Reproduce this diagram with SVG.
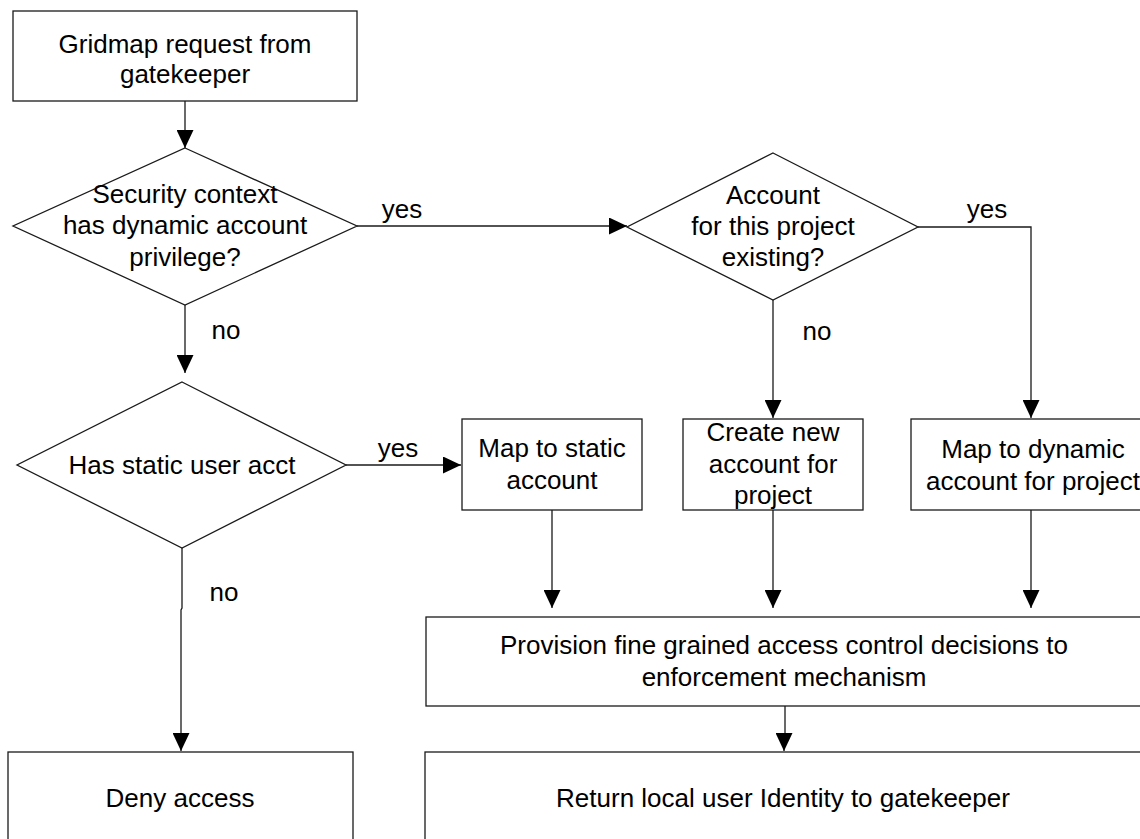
<svg xmlns="http://www.w3.org/2000/svg" width="1140" height="839" viewBox="0 0 1140 839">
  <style>
    .shape { fill: #ffffff; stroke: #1a1a1a; stroke-width: 1.3; }
    .conn { fill: none; stroke: #1a1a1a; stroke-width: 1.3; }
    text { font-family: "Liberation Sans", Arial, sans-serif; font-size: 26px; fill: #000000; text-anchor: middle; }
  </style>
  <defs>
    <marker id="arrow" markerUnits="userSpaceOnUse" markerWidth="18" markerHeight="17" refX="18" refY="8.5" orient="auto">
      <path d="M0,0 L18,8.5 L0,17 Z" fill="#000000"/>
    </marker>
  </defs>
  <rect width="1140" height="839" fill="#ffffff"/>

  <g id="connectors">
    <path class="conn" d="M185,101 V148" marker-end="url(#arrow)"/>
    <path class="conn" d="M357,226 H627" marker-end="url(#arrow)"/>
    <path class="conn" d="M185,305 V373" marker-end="url(#arrow)"/>
    <path class="conn" d="M773,300 V418" marker-end="url(#arrow)"/>
    <path class="conn" d="M918,227 H1031 V418" marker-end="url(#arrow)"/>
    <path class="conn" d="M346,465 H461" marker-end="url(#arrow)"/>
    <path class="conn" d="M182,548 V608 L181,610 V751" marker-end="url(#arrow)"/>
    <path class="conn" d="M552,510 V608" marker-end="url(#arrow)"/>
    <path class="conn" d="M773,510 V608" marker-end="url(#arrow)"/>
    <path class="conn" d="M1031,510 V608" marker-end="url(#arrow)"/>
    <path class="conn" d="M785,706 V733 L784,735 V751" marker-end="url(#arrow)"/>
    <text x="402" y="218">yes</text>
    <text x="226" y="339">no</text>
    <text x="987" y="218">yes</text>
    <text x="817" y="340">no</text>
    <text x="398" y="457">yes</text>
    <text x="224" y="601">no</text>
  </g>

  <g id="gridmap-request">
    <rect class="shape" x="13" y="11" width="344" height="90"/>
    <text x="185" y="53">Gridmap request from</text>
    <text x="185" y="83">gatekeeper</text>
  </g>

  <g id="dynamic-privilege">
    <polygon class="shape" points="185,148 357,226 185,305 13,226"/>
    <text x="185" y="203">Security context</text>
    <text x="185" y="234">has dynamic account</text>
    <text x="185" y="266">privilege?</text>
  </g>

  <g id="account-existing">
    <polygon class="shape" points="773,153 918,227 773,300 627,227"/>
    <text x="773" y="204">Account</text>
    <text x="773" y="235">for this project</text>
    <text x="773" y="266">existing?</text>
  </g>

  <g id="static-user">
    <polygon class="shape" points="182,382 346,465 182,548 17,465"/>
    <text x="182" y="474">Has static user acct</text>
  </g>

  <g id="map-static">
    <rect class="shape" x="462" y="419" width="180" height="91"/>
    <text x="552" y="457">Map to static</text>
    <text x="552" y="489">account</text>
  </g>

  <g id="create-new">
    <rect class="shape" x="683" y="419" width="180" height="91"/>
    <text x="773" y="441">Create new</text>
    <text x="773" y="473">account for</text>
    <text x="773" y="504">project</text>
  </g>

  <g id="map-dynamic">
    <rect class="shape" x="911" y="419" width="240" height="91"/>
    <text x="1033" y="458">Map to dynamic</text>
    <text x="1033" y="490">account for project</text>
  </g>

  <g id="provision">
    <rect class="shape" x="426" y="617" width="725" height="89"/>
    <text x="784" y="654">Provision fine grained access control decisions to</text>
    <text x="784" y="686">enforcement mechanism</text>
  </g>

  <g id="deny-access">
    <rect class="shape" x="8" y="752" width="345" height="100"/>
    <text x="180" y="807">Deny access</text>
  </g>

  <g id="return-identity">
    <rect class="shape" x="425" y="752" width="726" height="100"/>
    <text x="783" y="807">Return local user Identity to gatekeeper</text>
  </g>
</svg>
